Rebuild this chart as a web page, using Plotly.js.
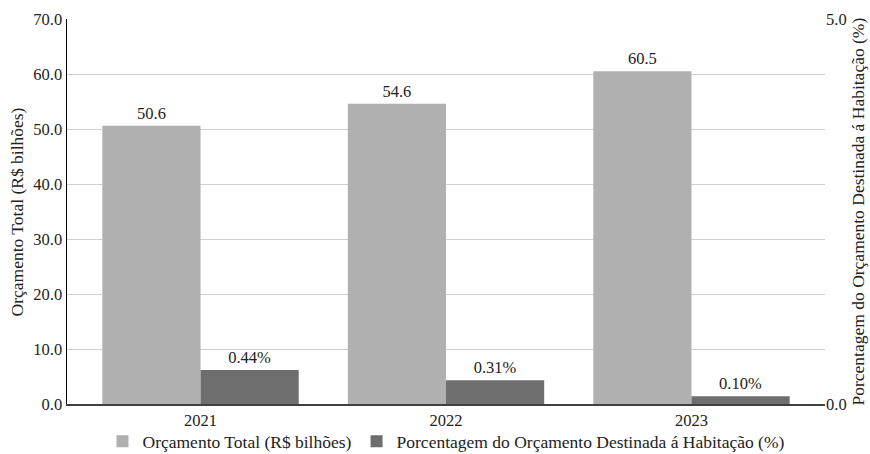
<!DOCTYPE html>
<html><head><meta charset="utf-8">
<script src="https://cdn.plot.ly/plotly-3.0.1.min.js"></script>
<style>html,body{margin:0;padding:0;background:#fff}#chart{width:870px;height:454px}</style>
</head><body><div id="chart"></div>
<script>
const years = ['2021', '2022', '2023'];
const totalBudget = [50.6, 54.6, 60.5];
const housingPct = [0.44, 0.31, 0.10];
const seriesNames = ['Orçamento Total (R$ bilhões)', 'Porcentagem do Orçamento Destinada á Habitação (%)'];
const FONT = 'Liberation Serif';
const TICK = 16.5, TITLE = 17.5;

const traces = [
  {type:'bar', x: years, y: totalBudget, name: seriesNames[0], yaxis:'y', offsetgroup:'a',
   marker:{color:'#b0b0b0'}, text: totalBudget.map(v=>v.toFixed(1)), textposition:'outside',
   textfont:{family:FONT, size:TICK, color:'#222'}, cliponaxis:false, hoverinfo:'none'},
  {type:'bar', x: years, y: housingPct, name: seriesNames[1], yaxis:'y2', offsetgroup:'b',
   marker:{color:'#6e6e6e'}, text: housingPct.map(v=>v.toFixed(2)+'%'), textposition:'outside',
   textfont:{family:FONT, size:TICK, color:'#222'}, cliponaxis:false, hoverinfo:'none'}
];
const layout = {
  width:870, height:454, margin:{l:67, r:45, t:19, b:50},
  paper_bgcolor:'#fff', plot_bgcolor:'#fff',
  font:{family:FONT, size:TICK, color:'#222'},
  barmode:'group', bargap:0.2, bargroupgap:0,
  xaxis:{type:'category', range:[-0.544, 2.544], showline:true, linecolor:'#404040', linewidth:2, ticks:'', tickfont:{family:FONT, size:TICK}, showgrid:false, automargin:false},
  yaxis:{range:[0,70], dtick:10, tickformat:'.1f', showline:true, linecolor:'#000', linewidth:1.5,
    gridcolor:'#d0d0d0', gridwidth:1, zeroline:false, ticks:'', tickfont:{family:FONT, size:TICK}, automargin:false},
  yaxis2:{range:[0,5], tickvals:[0,5], tickformat:'.1f', overlaying:'y', side:'right', showgrid:false,
    zeroline:false, showline:false, ticks:'', tickfont:{family:FONT, size:TICK}, automargin:false},
  annotations:[
    {text:seriesNames[0], xref:'paper', yref:'paper', x:-0.066, y:0.5, xanchor:'center', yanchor:'middle', textangle:-90, showarrow:false, font:{family:FONT, size:TITLE, color:'#222'}},
    {text:seriesNames[1], xref:'paper', yref:'paper', x:1.0435, y:0.5, xanchor:'center', yanchor:'middle', textangle:-90, showarrow:false, font:{family:FONT, size:TITLE, color:'#222'}}
  ],
  legend:{orientation:'h', x:0.5, xanchor:'center', xref:'paper', y:0.028, yanchor:'middle', yref:'container', bgcolor:'rgba(0,0,0,0)', font:{family:FONT, size:TITLE}},
  showlegend:true
};
Plotly.newPlot('chart', traces, layout, {displayModeBar:false, staticPlot:true});
</script></body></html>
